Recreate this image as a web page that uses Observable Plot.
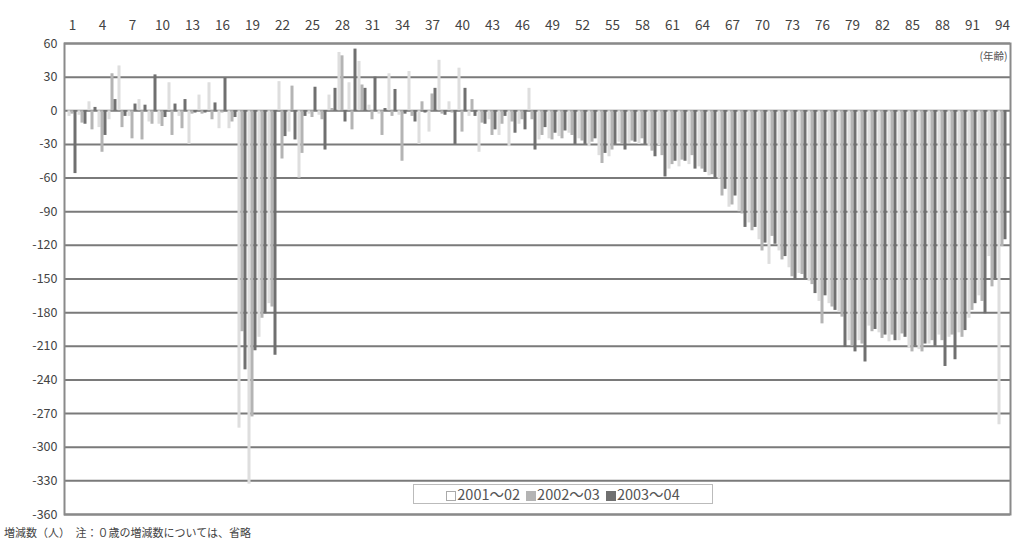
<!DOCTYPE html>
<html>
<head>
<meta charset="utf-8">
<script src="https://cdn.jsdelivr.net/npm/d3@7"></script>
<script src="https://cdn.jsdelivr.net/npm/@observablehq/plot@0.6"></script>
<style>
  html, body { margin: 0; padding: 0; background: #fff; }
  #wrap { position: relative; width: 1012px; height: 548px; font-family: "Noto Sans CJK JP", "Noto Sans", sans-serif; }
  #legend { position: absolute; left: 413px; top: 484px; width: 298px; height: 18px; border: 1px solid #bbb; background: #fff;
            font-size: 14.5px; color: #555; display: flex; align-items: center; justify-content: center; gap: 6px; line-height: 18px; white-space: nowrap; }
  #legend span.sw { display: inline-block; width: 8px; height: 8px; margin-right: 1px; vertical-align: middle; }
  #caption { position: absolute; left: 4px; top: 524px; font-size: 11px; color: #444; }
</style>
</head>
<body>
<div id="wrap"></div>
<script>
const ages = d3.range(1, 95);
const seriesNames = ["2001～02", "2002～03", "2003～04"];
const seriesColors = ["#dedede", "#b4b4b4", "#707070"];
const xTickLabels = d3.range(1, 95, 3);
const yTicks = d3.range(-360, 61, 30);

const s2001 = [-5,-4,8,-15,-8,40,-5,10,-10,-12,25,-5,-30,14,25,-16,-16,-283,-333,-202,
  -172,26,-19,-60,-3,-4,14,52,25,44,5,-3,33,-4,35,-30,-19,45,8,38,
  -5,-37,-8,-22,-32,-12,20,-26,-25,-23,-20,-25,-32,-40,-41,-28,-29,-30,-32,-31,
  -52,-50,-48,-50,-58,-61,-86,-90,-100,-115,-137,-125,-140,-145,-152,-170,-172,-180,-205,-205,
  -192,-198,-206,-205,-212,-213,-208,-200,-202,-198,-185,-165,-130,-280];
const s2002 = [-3,-11,-17,-37,33,-15,-25,-26,-12,-14,-22,-16,-3,-3,-8,-2,-10,-197,-273,-185,
  -175,-43,22,-38,-6,-8,2,49,-17,23,-8,-22,-5,-45,-5,8,15,-3,-2,-19,
  10,-11,-22,-12,-10,-8,-8,-22,-26,-25,-22,-27,-28,-47,-35,-30,-27,-25,-36,-40,
  -48,-44,-40,-52,-57,-76,-84,-92,-107,-125,-112,-133,-148,-146,-155,-190,-175,-184,-210,-208,
  -197,-203,-200,-199,-215,-215,-205,-205,-200,-202,-178,-170,-157,-121];
const s2003 = [-56,-12,3,-22,10,-5,6,5,32,-6,6,10,-2,-2,7,29,-6,-231,-214,-181,
  -218,-23,-26,-5,21,-35,20,-10,55,20,30,2,19,-3,-10,-2,20,-4,-30,20,
  -5,-12,-17,-5,-20,-17,-35,-15,-20,-18,-30,-30,-25,-38,-30,-35,-28,-30,-41,-59,
  -45,-45,-52,-55,-60,-70,-76,-104,-104,-118,-119,-130,-151,-150,-163,-165,-178,-211,-215,-224,
  -195,-200,-205,-202,-210,-208,-210,-228,-222,-196,-172,-181,-150,-115];

const seriesValues = [s2001, s2002, s2003];
const insets = [[0.5, 6.5], [3.5, 3.5], [6.5, 0.5]];

const barMarks = seriesValues.map((vals, k) =>
  Plot.barY(ages.map((a, i) => ({age: a, value: vals[i], series: seriesNames[k]})), {
    x: "age", y: "value", fill: seriesColors[k],
    insetLeft: insets[k][0], insetRight: insets[k][1]
  })
);

const chart = Plot.plot({
  width: 1012,
  height: 548,
  marginLeft: 64,
  marginRight: 2,
  marginTop: 43,
  marginBottom: 34,
  style: {fontFamily: "'Noto Sans CJK JP', 'Noto Sans', sans-serif", background: "#fff", color: "#444"},
  x: {type: "band", domain: ages, padding: 0},
  y: {domain: [-360, 60]},
  marks: [
    Plot.ruleY(yTicks, {stroke: "#7a7a7a", strokeWidth: 2}),
    ...barMarks,
    Plot.frame({stroke: "#8a8a8a", strokeWidth: 2}),
    Plot.axisX({anchor: "top", ticks: xTickLabels, tickSize: 0, tickPadding: 14, fontSize: 13.5, label: null, fill: "#444"}),
    Plot.axisY({ticks: yTicks, tickSize: 0, tickPadding: 7, fontSize: 12.5, label: null, fill: "#444",
      tickFormat: d => d < 0 ? "-" + Math.abs(d) : String(d)}),
    Plot.text(["(年齢)"], {frameAnchor: "top-right", dx: -3, dy: 9, fontSize: 10.5, fill: "#555"})
  ]
});

const wrap = document.getElementById("wrap");
wrap.appendChild(chart);

const legend = document.createElement("div");
legend.id = "legend";
legend.innerHTML = seriesNames.map((n, k) =>
  `<span><span class="sw" style="background:${k === 0 ? "#fff" : seriesColors[k]};border:1px solid ${k === 0 ? "#aaa" : seriesColors[k]}"></span>${n}</span>`
).join(" ");
wrap.appendChild(legend);

const cap = document.createElement("div");
cap.id = "caption";
cap.textContent = "増減数（人）　注：０歳の増減数については、省略";
wrap.appendChild(cap);
</script>
</body>
</html>
